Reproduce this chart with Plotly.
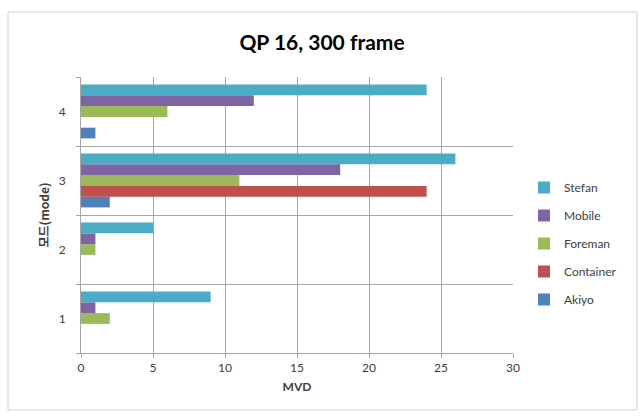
import plotly.graph_objects as go

modes = [1, 2, 3, 4]
mode_labels = ["1", "2", "3", "4"]
akiyo = [0, 0, 2, 1]
container = [0, 0, 24, 0]
foreman = [2, 1, 11, 6]
mobile = [1, 1, 18, 12]
stefan = [9, 5, 26, 24]

series = [
    ("Akiyo", akiyo, "#4F81BD"),
    ("Container", container, "#C0504D"),
    ("Foreman", foreman, "#9BBB59"),
    ("Mobile", mobile, "#8064A2"),
    ("Stefan", stefan, "#4BACC6"),
]

fig = go.Figure()
n = len(series)
for i, (name, vals, col) in enumerate(series):
    fig.add_trace(go.Bar(y=modes, x=vals, name=name, orientation="h", legendgroup=name,
                         legendrank=n - i,
                         marker=dict(color=col, line=dict(width=0))))

W, H = 644, 417
L, R, T, B = 81, 131, 77, 64
pw, ph = W - L - R, H - T - B

def px_x(p):
    return (p - L) / pw

def px_y(p):
    return (H - B - p) / ph

grid = "#a6a6a6"
fig.update_layout(
    width=W, height=H,
    margin=dict(l=L, r=R, t=T, b=B, autoexpand=False),
    paper_bgcolor="white", plot_bgcolor="white",
    barmode="group", bargap=0.22, bargroupgap=0,
    font=dict(family="Lato, Noto Sans CJK KR", size=12, color="#404040"),
    title=dict(text="<b>QP 16, 300 frame</b>", x=0.5, xanchor="center",
               y=1 - 43 / H, yanchor="middle",
               font=dict(family="Lato, Noto Sans CJK KR", size=21, color="#000000")),
    xaxis=dict(range=[0, 30], dtick=5, showgrid=True, gridcolor=grid, gridwidth=1,
               showline=True, linecolor=grid, ticks="outside", ticklen=4, tickcolor=grid,
               zeroline=False, tickfont=dict(size=12, color="#404040"),
               title=dict(text="<b>MVD</b>", standoff=8, font=dict(size=12, color="#404040"))),
    yaxis=dict(range=[0.5, 4.5], tickvals=modes, ticktext=mode_labels, showgrid=False,
               showline=True, linecolor=grid, ticks="", zeroline=False,
               ticklabelstandoff=12,
               tickfont=dict(size=12, color="#404040"),
               minor=dict(tickvals=[0.5, 1.5, 2.5, 3.5, 4.5], showgrid=True, gridcolor=grid,
                          ticks="outside", ticklen=4, tickcolor=grid),
               title=dict(text="<b>모드(mode)</b>", standoff=6,
                          font=dict(family="Noto Sans CJK KR", size=12, color="#404040"))),
    legend=dict(traceorder="grouped", x=px_x(524), xanchor="left", y=px_y(173),
                yanchor="top", font=dict(size=12, color="#404040"), itemwidth=30,
                tracegroupgap=9, bgcolor="rgba(0,0,0,0)"),
    showlegend=True,
)

fig.add_shape(type="rect", xref="paper", yref="paper",
              x0=px_x(8), x1=px_x(637), y0=px_y(410), y1=px_y(12),
              line=dict(color="#d0d0d0", width=1), fillcolor="rgba(0,0,0,0)", layer="below")

fig.write_html("out.html")
